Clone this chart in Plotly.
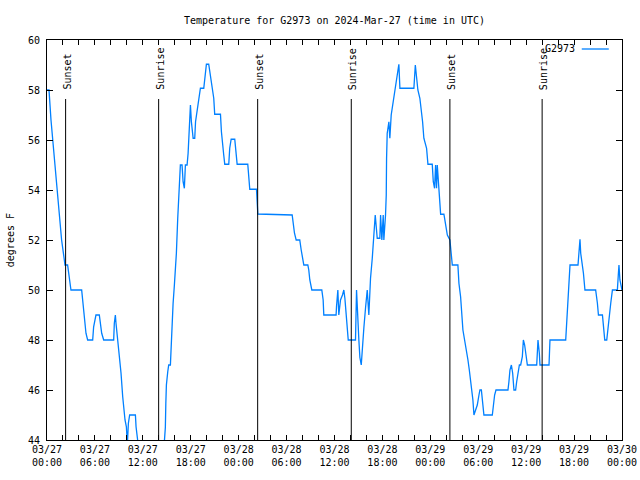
import pandas as pd
import plotly.graph_objects as go

# ---------------- data (hours since 2024-03-27 00:00 UTC, deg F) ----------------
hours = [0.0, 0.25, 0.5, 0.71, 1.04, 1.21, 1.5, 1.83, 2.17, 2.25, 2.58, 2.67, 2.79, 3.0,
         4.34, 4.46, 4.59, 4.76, 4.88, 5.09, 5.72, 5.84, 6.01, 6.13, 6.55, 6.68, 6.85, 7.1,
         8.35, 8.43, 8.56, 8.64, 8.77, 8.94, 9.1, 9.27, 9.48, 9.6, 9.77, 9.94, 10.06, 10.19,
         10.35, 11.07, 11.15, 11.35, 11.6, 12.5, 14.0, 14.6, 14.70, 14.82, 14.88, 14.95,
         15.12, 15.24, 15.45, 15.53, 15.66, 15.79, 15.95, 16.08, 16.2, 16.37, 16.54, 16.7,
         16.91, 17.04, 17.2, 17.33, 17.54, 17.67, 17.96, 18.08, 18.3, 18.5, 18.6, 18.71,
         18.88, 19.08, 19.21, 19.63, 19.84, 19.96, 20.25, 20.38, 20.5, 20.67, 20.88, 21.0,
         21.72, 21.84, 21.97, 22.13, 22.26, 22.76, 22.88, 23.06, 23.51, 23.63, 23.81, 25.14,
         25.26, 25.39, 26.23, 26.32, 26.4, 30.7, 30.83, 30.99, 31.2, 31.65, 31.83, 32.0,
         32.16, 32.66, 32.78, 32.91, 33.16, 34.41, 34.58, 34.66, 36.2, 36.25, 36.42, 36.54,
         36.75, 37.0, 37.17, 37.3, 37.42, 37.5, 37.6, 37.72, 38.63, 38.76, 39.05, 39.18,
         39.35, 39.47, 39.68, 39.89, 40.1, 40.3, 40.51, 40.73, 40.93, 41.1, 41.35, 41.68,
         41.77, 41.93, 42.1, 42.18, 42.39, 42.48, 42.52, 42.6, 42.81, 42.93, 43.1, 43.43,
         43.65, 43.86, 44.06, 44.19, 45.94, 46.12, 46.28, 46.44, 46.69, 46.87, 47.03, 47.19,
         47.53, 47.7, 48.24, 48.37, 48.53, 48.66, 48.78, 48.87, 49.07, 49.29, 49.7, 49.91,
         50.13, 50.45, 50.54, 50.75, 51.45, 51.58, 51.79, 51.92, 52.08, 52.29, 52.54, 52.71,
         52.88, 53.05, 53.17, 53.33, 53.46, 53.71, 53.88, 54.09, 54.21, 54.39, 54.55, 54.71,
         55.76, 55.89, 56.05, 56.22, 57.72, 57.84, 57.97, 58.15, 58.31, 58.47, 58.68, 58.81,
         58.97, 59.15, 59.31, 59.52, 59.65, 59.81, 59.98, 60.15, 61.32, 61.4, 61.48, 61.65,
         61.73, 62.86, 62.98, 64.95, 65.07, 65.24, 65.36, 65.49, 66.49, 66.62, 66.74, 66.83,
         67.04, 67.17, 67.36, 68.7, 68.92, 69.05, 69.55, 69.67, 69.84, 70.09, 70.25, 70.43,
         70.59, 70.8, 71.42, 71.55, 71.62, 71.74, 71.92, 72.0]
temps = [58.0, 58.0, 56.8, 56.0, 54.73, 54.0, 52.93, 52.0, 51.2, 51.0, 51.0, 50.8, 50.4, 50.0,
         50.0, 49.67, 49.2, 48.8, 48.27, 48.0, 48.0, 48.53, 48.8, 49.0, 49.0, 48.67, 48.27, 48.0,
         48.0, 48.67, 49.0, 48.67, 48.27, 47.73, 47.2, 46.67, 45.73, 45.2, 44.8, 44.53, 43.8, 44.67,
         45.0, 45.0, 44.53, 44.0, 43.0, 42.0, 42.0, 43.5, 44.07, 44.5, 45.47, 46.2,
         46.73, 47.0, 47.0, 47.67, 48.47, 49.47, 50.2, 50.73, 51.47, 52.87, 53.93, 55.0,
         55.0, 54.33, 54.07, 55.0, 55.0, 55.47, 57.4, 56.73, 56.07, 56.07, 56.73, 57.0,
         57.4, 57.8, 58.07, 58.07, 58.67, 59.03, 59.03, 58.73, 58.4, 58.07, 57.67, 57.03,
         57.03, 56.33, 55.8, 55.4, 55.03, 55.03, 55.67, 56.03, 56.03, 55.47, 55.03, 55.03,
         54.33, 54.03, 54.03, 53.33, 53.04, 53.0, 52.67, 52.27, 52.0, 52.0, 51.6, 51.2,
         51.0, 51.0, 50.8, 50.4, 50.0, 50.0, 49.6, 49.0, 49.0, 49.33, 50.0, 49.0,
         49.6, 49.8, 50.0, 49.67, 49.2, 48.67, 48.33, 48.0, 48.0, 50.0, 48.0, 47.3,
         47.0, 47.67, 48.5, 49.3, 50.0, 49.0, 50.47, 51.27, 52.2, 53.0, 52.07, 52.07,
         53.0, 52.0, 53.0, 52.0, 53.0, 53.8, 55.27, 56.27, 56.73, 56.07, 57.0, 57.67,
         58.07, 58.47, 59.03, 58.07, 58.07, 59.0, 58.6, 58.0, 57.67, 57.27, 56.73, 56.07,
         55.67, 55.03, 55.03, 54.33, 54.07, 55.0, 54.07, 55.0, 53.8, 53.03, 53.03, 52.6,
         52.2, 52.0, 51.6, 51.0, 51.0, 50.27, 49.73, 49.2, 48.4, 48.0, 47.6, 47.2,
         46.8, 46.4, 46.0, 45.6, 45.0, 45.2, 45.4, 45.8, 46.0, 46.0, 45.6, 45.0,
         45.0, 45.47, 45.8, 46.0, 46.0, 46.33, 46.8, 47.0, 46.67, 46.0, 46.0, 46.33,
         46.73, 47.0, 47.0, 47.33, 48.0, 47.8, 47.4, 47.0, 47.0, 47.67, 48.0, 47.47,
         47.0, 47.0, 48.0, 48.0, 48.67, 49.47, 50.47, 51.0, 51.0, 51.73, 52.03, 51.47,
         51.0, 50.67, 50.0, 50.0, 49.47, 49.0, 49.0, 48.53, 48.0, 48.0, 48.53, 49.0,
         49.47, 50.0, 50.0, 50.67, 51.0, 50.4, 50.0, 50.0]

sun_event_hours = [2.33, 13.98, 26.38, 38.1, 50.45, 62.0]
sun_event_labels = ["Sunset", "Sunrise", "Sunset", "Sunrise", "Sunset", "Sunrise"]

station = "G2973"
title_text = "Temperature for G2973 on 2024-Mar-27 (time in UTC)"
y_label = "degrees F"

# ---------------- figure ----------------
base = pd.Timestamp("2024-03-27 00:00")
xs = base + pd.to_timedelta(hours, unit="h")

FONT = "DejaVu Sans Mono"
BLUE = "rgb(0,128,255)"
W, H = 640, 480

fig = go.Figure()
fig.add_trace(go.Scatter(x=xs, y=temps, mode="lines", name=station,
                         line=dict(color=BLUE, width=1.3), showlegend=False))

for h, lab in zip(sun_event_hours, sun_event_labels):
    t = base + pd.Timedelta(hours=h)
    fig.add_shape(type="line", xref="x", yref="paper", x0=t, x1=t, y0=0, y1=0.8525,
                  line=dict(color="black", width=1))
    fig.add_annotation(x=t, y=0.87, xref="x", yref="paper", text=lab, textangle=-90,
                       showarrow=False, xanchor="center", yanchor="bottom", xshift=1,
                       font=dict(family=FONT, size=10, color="black"))

# legend (text then sample line, gnuplot style)
fig.add_annotation(x=0.921, y=0.9775, xref="paper", yref="paper", text=station,
                   showarrow=False, xanchor="right", yanchor="middle",
                   font=dict(family=FONT, size=10, color="black"))
fig.add_shape(type="line", xref="paper", yref="paper", x0=0.930, x1=0.977,
              y0=0.9775, y1=0.9775, line=dict(color=BLUE, width=1.3))

# y-axis label
fig.add_annotation(x=-0.064, y=0.5, xref="paper", yref="paper", text=y_label,
                   textangle=-90, showarrow=False, xanchor="center", yanchor="middle",
                   font=dict(family=FONT, size=10, color="black"))

fig.update_layout(
    width=W, height=H,
    margin=dict(l=47, r=18, t=40, b=40, autoexpand=False),
    paper_bgcolor="white", plot_bgcolor="white",
    title=dict(text=title_text, x=0.5, xref="paper", xanchor="center",
               y=1 - 20 / H, yref="container", yanchor="middle", automargin=False,
               font=dict(family=FONT, size=10, color="black")),
    font=dict(family=FONT, size=10, color="black"),
    showlegend=False,
)
fig.update_xaxes(
    type="date", automargin=False,
    range=[base, base + pd.Timedelta(hours=72)],
    tick0=base, dtick=6 * 3600 * 1000,
    tickformat="%m/%d<br>%H:%M",
    ticks="inside", ticklen=5, tickcolor="black", tickwidth=1,
    minor=dict(dtick=2 * 3600 * 1000, ticks="inside", ticklen=5, tickcolor="black", showgrid=False),
    showline=True, linecolor="black", linewidth=1, mirror="allticks",
    showgrid=False, zeroline=False,
    tickfont=dict(family=FONT, size=10, color="black"),
)
fig.update_yaxes(
    range=[44, 60], dtick=2, tick0=44, automargin=False,
    ticks="inside", ticklen=6, tickcolor="black", tickwidth=1,
    showline=True, linecolor="black", linewidth=1, mirror="allticks",
    showgrid=False, zeroline=False,
    ticklabelstandoff=4,
    tickfont=dict(family=FONT, size=10, color="black"),
)

# remove the browser's default 8px body margin so the 640x480 figure fills the view
fig.write_html("out.html",
               config={"displayModeBar": False},
               post_script="document.body.style.margin='0px';document.body.style.overflow='hidden';")
